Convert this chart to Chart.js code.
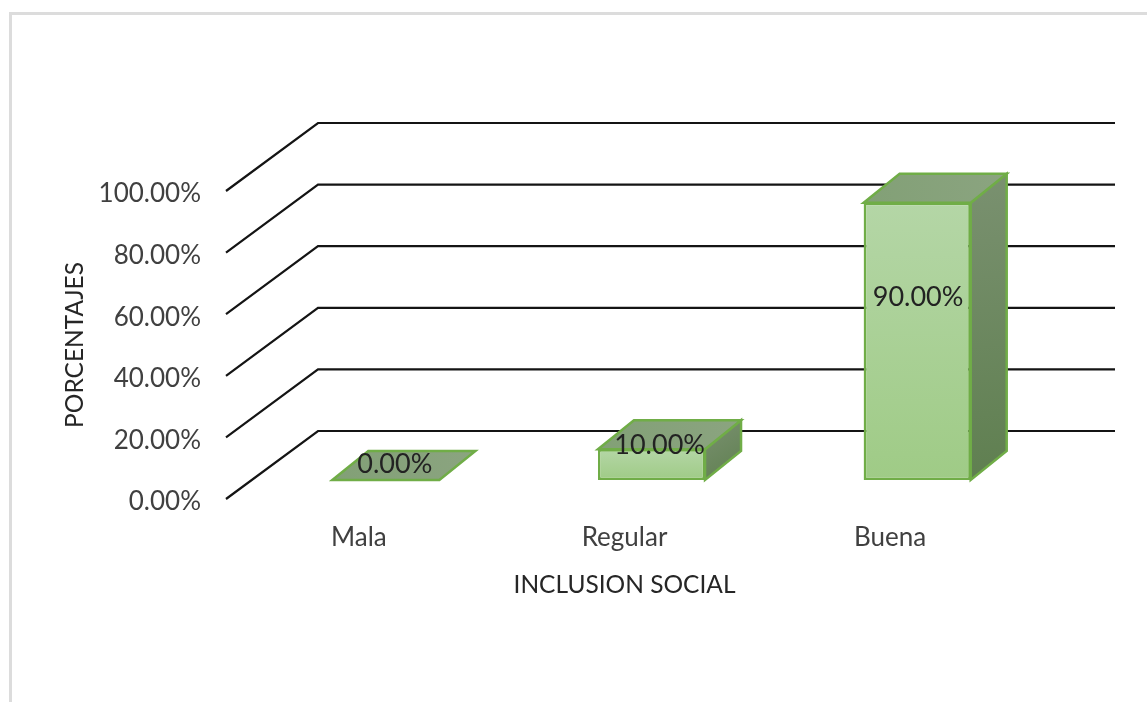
<!DOCTYPE html>
<html>
<head>
<meta charset="utf-8">
<title>Inclusion social</title>
<script src="https://cdn.jsdelivr.net/npm/chart.js@4"></script>
<style>
  html, body { margin: 0; padding: 0; background: #fff; overflow: hidden; }
  #frame { position: absolute; left: 9px; top: 12px; right: 0; bottom: 0; border-left: 3px solid #dcdcdc; border-top: 3px solid #dcdcdc; }
  #voteChart { position: absolute; left: 0; top: 0; }
</style>
</head>
<body>
<div id="frame"></div>
<canvas id="voteChart" width="1147" height="702"></canvas>
<script>
const categories = ["Mala", "Regular", "Buena"];
const porcentajes = [0, 10, 90];
const tickValues = [0, 20, 40, 60, 80, 100];

// depth of the fake 3D: back wall, and where the bars stand inside it
const wallDx = 92, wallDy = -68;
const barDx = 27, barDy = -19;
const boxDx = 36, boxDy = -29;
const edgeColor = "#70ad47";

function fmt(v) {
    return v.toFixed(2) + "%";
}

// back wall: gridlines with the diagonal at left
const wallPlugin = {
    id: "wall",
    beforeDatasetsDraw(chart) {
        const ctx = chart.ctx, y = chart.scales.y, a = chart.chartArea;
        ctx.save();
        ctx.strokeStyle = "#141414";
        ctx.lineWidth = 2.2;
        tickValues.forEach(v => {
            const py = y.getPixelForValue(v);
            ctx.beginPath();
            ctx.moveTo(a.left, py);
            ctx.lineTo(a.left + wallDx, py + wallDy);
            ctx.lineTo(a.right + wallDx, py + wallDy);
            ctx.stroke();
        });
        ctx.restore();
    }
};

// shifts the bars into the depth and adds top + side faces
const boxPlugin = {
    id: "box",
    beforeDatasetDraw(chart) {
        chart.ctx.save();
        chart.ctx.translate(barDx, barDy);
    },
    afterDatasetDraw(chart, args) {
        const ctx = chart.ctx;
        args.meta.data.forEach(bar => {
            const p = bar.getProps(["x", "y", "base", "width"], true);
            const l = p.x - p.width / 2, r = p.x + p.width / 2;

            if (p.base - p.y > 0.5) {
                const side = ctx.createLinearGradient(r, p.y + boxDy, r + boxDx, p.base);
                side.addColorStop(0, "#7a9170");
                side.addColorStop(1, "#5f7f50");
                ctx.fillStyle = side;
                ctx.beginPath();
                ctx.moveTo(r, p.y);
                ctx.lineTo(r + boxDx, p.y + boxDy);
                ctx.lineTo(r + boxDx, p.base + boxDy);
                ctx.lineTo(r, p.base);
                ctx.closePath();
                ctx.fill();
                ctx.strokeStyle = edgeColor;
                ctx.lineWidth = 2.5;
                ctx.stroke();
            }

            const top = ctx.createLinearGradient(l, p.y, r + boxDx, p.y + boxDy);
            top.addColorStop(0, "#82a076");
            top.addColorStop(1, "#8ba480");
            ctx.fillStyle = top;
            ctx.beginPath();
            ctx.moveTo(l, p.y);
            ctx.lineTo(l + boxDx, p.y + boxDy);
            ctx.lineTo(r + boxDx, p.y + boxDy);
            ctx.lineTo(r, p.y);
            ctx.closePath();
            ctx.fill();
            ctx.strokeStyle = edgeColor;
            ctx.lineWidth = 2.5;
            ctx.stroke();
        });
        ctx.restore();
    },
    afterDatasetsDraw(chart) {
        const ctx = chart.ctx, y = chart.scales.y;
        ctx.save();
        ctx.font = "27px Lato";
        ctx.fillStyle = "#222";
        ctx.textAlign = "center";
        ctx.textBaseline = "middle";
        chart.getDatasetMeta(0).data.forEach((bar, i) => {
            const v = porcentajes[i];
            ctx.fillText(fmt(v), bar.x + barDx + 9 * (1 - v / 100), y.getPixelForValue(v * 0.6) + barDy - 16);
        });
        ctx.restore();
    }
};

new Chart(document.getElementById("voteChart").getContext("2d"), {
    type: "bar",
    data: {
        labels: categories,
        datasets: [{
            data: porcentajes,
            barPercentage: 0.403,
            categoryPercentage: 1,
            borderColor: edgeColor,
            borderWidth: 2.5,
            borderSkipped: false,
            backgroundColor(c) {
                const chart = c.chart, y = chart.scales.y;
                if (!y || !c.parsed) return "#a8d096";
                const t = y.getPixelForValue(c.parsed.y), b = y.getPixelForValue(0);
                if (!Number.isFinite(t) || !Number.isFinite(b)) return "#a8d096";
                const g = chart.ctx.createLinearGradient(0, t, 0, b);
                g.addColorStop(0, "#b4d6a6");
                g.addColorStop(1, "#9fcb86");
                return g;
            }
        }]
    },
    options: {
        responsive: false,
        animation: false,
        layout: { padding: { left: 0, top: 191, right: 124, bottom: 0 } },
        plugins: { legend: { display: false }, tooltip: { enabled: false } },
        scales: {
            x: {
                afterFit(scale) { scale.height = 203; },
                grid: { display: false, drawTicks: false },
                border: { display: false },
                ticks: { color: "#404040", font: { family: "Lato", size: 26 }, padding: 23, maxRotation: 0 },
                title: { display: true, text: "INCLUSION SOCIAL", color: "#262626", font: { family: "Lato", size: 24.5 }, padding: { bottom: 102 } }
            },
            y: {
                min: 0,
                max: 100,
                afterFit(scale) { scale.width = 226; },
                afterBuildTicks(scale) { scale.ticks = tickValues.map(v => ({ value: v })); },
                grid: { display: false, drawTicks: false },
                border: { display: false },
                ticks: { color: "#404040", font: { family: "Lato", size: 26 }, padding: 25, labelOffset: 3, callback: v => fmt(v) },
                title: { display: true, text: "PORCENTAJES", color: "#262626", font: { family: "Lato", size: 24.5 }, padding: { top: 60 } }
            }
        }
    },
    plugins: [wallPlugin, boxPlugin]
});
</script>
</body>
</html>
